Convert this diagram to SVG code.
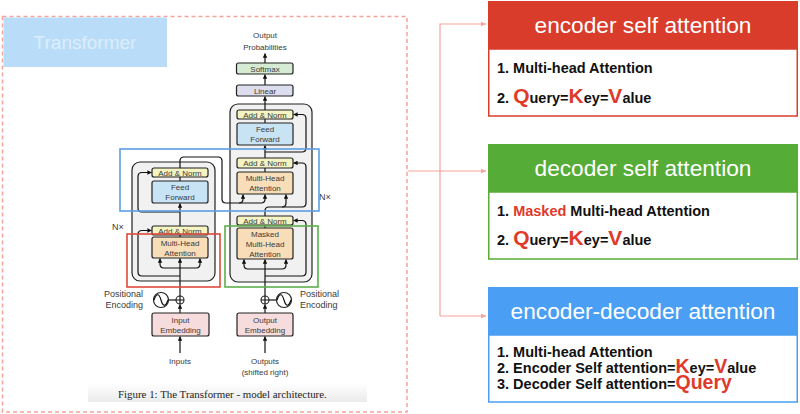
<svg xmlns="http://www.w3.org/2000/svg" width="800" height="414" viewBox="0 0 800 414">
<defs>
<style>
.lbl{font-family:"Liberation Sans",Arial,sans-serif;font-size:8px;fill:#3a3a3a;text-anchor:middle}
.olbl{font-family:"Liberation Sans",Arial,sans-serif;font-size:9px;fill:#3a3a3a}
.box{stroke:#222;stroke-width:1.2}
.ln{fill:none;stroke:#111;stroke-width:1.2}
.blk{fill:#f1f1f1;stroke:#222;stroke-width:1.2}
.an{fill:#f4f4c3}
.ff{fill:#c8e4f4}
.mha{fill:#f8deb8}
.emb{fill:#f6dcdc}
.hl{fill:none;stroke-width:1.6}
.conn{fill:none;stroke:#f5a49b;stroke-width:1.2}
.head{font-family:"Liberation Sans",Arial,sans-serif;font-size:22.7px;fill:#fff;text-anchor:middle}
.body{font-family:"Liberation Sans",Arial,sans-serif;font-size:14.5px;font-weight:bold;fill:#111}
.big{font-size:21px;fill:#e03a2a}
.big2{font-size:19.5px;fill:#e03a2a}
.red{fill:#e03a2a}
</style>
<marker id="ah" viewBox="0 0 6 6" refX="5.5" refY="3" markerWidth="4.5" markerHeight="4.5" orient="auto" markerUnits="userSpaceOnUse"><path d="M0,0 L6,3 L0,6 z" fill="#111"/></marker>
<marker id="ahs" viewBox="0 0 6 6" refX="5.5" refY="3" markerWidth="6" markerHeight="6" orient="auto" markerUnits="userSpaceOnUse"><path d="M0,0.5 L6,3 L0,5.5 z" fill="#f5a49b"/></marker>
<linearGradient id="capg" x1="0" y1="0" x2="0" y2="1"><stop offset="0" stop-color="#ffffff"/><stop offset="1" stop-color="#ebebeb"/></linearGradient>
</defs>
<rect width="800" height="414" fill="#fff"/>

<g id="frame">
<rect x="2.5" y="16.5" width="404.5" height="395.5" fill="none" stroke="#f5a49b" stroke-width="1.5" stroke-dasharray="4 3"/>
<rect x="3.5" y="17.5" width="163.5" height="49.5" fill="#b9dcf9"/>
<text x="85" y="49" font-family="'Liberation Sans',Arial,sans-serif" font-size="19" fill="#dcedfc" text-anchor="middle">Transformer</text>
<rect x="88" y="383" width="279" height="19" fill="url(#capg)"/>
<text x="118" y="398" font-family="'Liberation Serif','Times New Roman',serif" font-size="10.9" fill="#222">Figure 1: The Transformer - model architecture.</text>
</g>

<g id="encoder-block"><rect class="blk" x="132" y="162" width="83" height="119" rx="8"/></g>
<g id="decoder-block"><rect class="blk" x="230" y="104" width="82" height="178" rx="8"/></g>

<g id="connectors">
<path class="ln" d="M265,63 V53.5" marker-end="url(#ah)"/>
<path class="ln" d="M265,85 V74.5" marker-end="url(#ah)"/>
<path class="ln" d="M265,110 V96.5" marker-end="url(#ah)"/>
<path class="ln" d="M180,296 V258.5" marker-end="url(#ah)"/>
<path class="ln" d="M180,268 H164 Q160,268 160,264 V258.5" marker-end="url(#ah)"/>
<path class="ln" d="M180,268 H196 Q200,268 200,264 V258.5" marker-end="url(#ah)"/>
<path class="ln" d="M180,276 H142 Q138,276 138,272 V234.5 Q138,230.5 142,230.5 H151.5" marker-end="url(#ah)"/>
<path class="ln" d="M180,237 V235"/>
<path class="ln" d="M180,226 V203.5" marker-end="url(#ah)"/>
<path class="ln" d="M180,212 H142 Q138,212 138,208 V176.5 Q138,172.5 142,172.5 H151.5" marker-end="url(#ah)"/>
<path class="ln" d="M180,181 V177"/>
<path class="ln" d="M180,168 V161 Q180,157 184,157 H218 Q222,157 222,161 V199 Q222,203 226,203 H261 Q265,203 265,199 V194.5" marker-end="url(#ah)"/>
<path class="ln" d="M239,203 Q243,203 243,199 V194.5" marker-end="url(#ah)"/>
<path class="ln" d="M265,296 V259.5" marker-end="url(#ah)"/>
<path class="ln" d="M265,269 H248 Q244,269 244,265 V259.5" marker-end="url(#ah)"/>
<path class="ln" d="M265,269 H282 Q286,269 286,265 V259.5" marker-end="url(#ah)"/>
<path class="ln" d="M265,276 H302 Q306,276 306,272 V224.5 Q306,220.5 302,220.5 H293.5" marker-end="url(#ah)"/>
<path class="ln" d="M265,228 V225"/>
<path class="ln" d="M265,216 V211 Q265,207 269,207 H302 Q306,207 306,203 V167 Q306,163 302,163 H293.5" marker-end="url(#ah)"/>
<path class="ln" d="M282,207 Q286,207 286,203 V194.5" marker-end="url(#ah)"/>
<path class="ln" d="M265,172 V168"/>
<path class="ln" d="M265,158 V145.5" marker-end="url(#ah)"/>
<path class="ln" d="M265,152 H302 Q306,152 306,148 V118.5 Q306,114.5 302,114.5 H293.5" marker-end="url(#ah)"/>
<path class="ln" d="M265,123 V119"/>
<path class="ln" d="M180,313 V304.5" marker-end="url(#ah)"/>
<path class="ln" d="M265,313 V304.5" marker-end="url(#ah)"/>
<path class="ln" d="M180,353 V336.5" marker-end="url(#ah)"/>
<path class="ln" d="M265,353 V336.5" marker-end="url(#ah)"/>
<path class="ln" d="M168.5,300 H176"/>
<path class="ln" d="M269,300 H276.5"/>
<path class="conn" d="M408,171 H486" marker-end="url(#ahs)"/>
<path class="conn" d="M440,316 V24 H486" marker-end="url(#ahs)"/>
<path class="conn" d="M440,316 H486" marker-end="url(#ahs)"/>
</g>

<g id="output-prob">
<text class="lbl" x="265" y="38" font-size="9">Output</text>
<text class="lbl" x="265" y="50" font-size="9">Probabilities</text>
</g>
<g id="softmax"><rect class="box" x="236.5" y="63" width="56.5" height="11" rx="2" fill="#d5ebd3"/><text class="lbl" x="265" y="71.5">Softmax</text></g>
<g id="linear"><rect class="box" x="236.5" y="85" width="56.5" height="11" rx="2" fill="#dcdeef"/><text class="lbl" x="265" y="93.5">Linear</text></g>

<g id="dec-addnorm3"><rect class="box an" x="237" y="110" width="56" height="9" rx="2"/><text class="lbl" x="265" y="117.5">Add &amp; Norm</text></g>
<g id="dec-ff"><rect class="box ff" x="237" y="123" width="56" height="22" rx="2"/><text class="lbl" x="265" y="132">Feed</text><text class="lbl" x="265" y="142">Forward</text></g>
<g id="dec-addnorm2"><rect class="box an" x="237" y="158" width="56" height="10" rx="2"/><text class="lbl" x="265" y="166">Add &amp; Norm</text></g>
<g id="dec-mha"><rect class="box mha" x="237" y="172" width="56" height="22" rx="2"/><text class="lbl" x="265" y="181">Multi-Head</text><text class="lbl" x="265" y="191">Attention</text></g>
<g id="dec-addnorm1"><rect class="box an" x="237" y="216" width="56" height="9" rx="2"/><text class="lbl" x="265" y="223.5">Add &amp; Norm</text></g>
<g id="dec-masked-mha"><rect class="box mha" x="237" y="228" width="56" height="31" rx="2"/><text class="lbl" x="265" y="237">Masked</text><text class="lbl" x="265" y="247">Multi-Head</text><text class="lbl" x="265" y="257">Attention</text></g>

<g id="enc-addnorm2"><rect class="box an" x="152" y="168" width="56" height="9" rx="2"/><text class="lbl" x="180" y="175.5">Add &amp; Norm</text></g>
<g id="enc-ff"><rect class="box ff" x="152" y="181" width="56" height="22" rx="2"/><text class="lbl" x="180" y="190">Feed</text><text class="lbl" x="180" y="200">Forward</text></g>
<g id="enc-addnorm1"><rect class="box an" x="152" y="226" width="56" height="9" rx="2"/><text class="lbl" x="180" y="233.5">Add &amp; Norm</text></g>
<g id="enc-mha"><rect class="box mha" x="152" y="237" width="56" height="21" rx="2"/><text class="lbl" x="180" y="246">Multi-Head</text><text class="lbl" x="180" y="255.5">Attention</text></g>

<g id="nx-labels">
<text class="olbl" x="112" y="230">N×</text>
<text class="olbl" x="319" y="200">N×</text>
</g>

<g id="enc-posenc">
<circle cx="161" cy="300" r="7.5" fill="#fff" stroke="#222" stroke-width="1.2"/>
<path class="ln" d="M154,300 C156.5,293 159,293 161,300 C163,307 165.5,307 168,300"/>
<circle cx="180" cy="300" r="4" fill="#fff" stroke="#222" stroke-width="1.1"/>
<path class="ln" d="M176,300 H184 M180,296 V304" stroke-width="0.9"/>
<text class="olbl" x="143" y="297" text-anchor="end">Positional</text>
<text class="olbl" x="143" y="308" text-anchor="end">Encoding</text>
</g>
<g id="dec-posenc">
<circle cx="284" cy="300" r="7.5" fill="#fff" stroke="#222" stroke-width="1.2"/>
<path class="ln" d="M277,300 C279.5,293 282,293 284,300 C286,307 288.5,307 291,300"/>
<circle cx="265" cy="300" r="4" fill="#fff" stroke="#222" stroke-width="1.1"/>
<path class="ln" d="M261,300 H269 M265,296 V304" stroke-width="0.9"/>
<text class="olbl" x="300" y="297">Positional</text>
<text class="olbl" x="300" y="308">Encoding</text>
</g>

<g id="input-embedding"><rect class="box emb" x="152" y="313" width="57" height="23" rx="2"/><text class="lbl" x="180.5" y="322.5">Input</text><text class="lbl" x="180.5" y="332.5">Embedding</text></g>
<g id="output-embedding"><rect class="box emb" x="237" y="313" width="56" height="23" rx="2"/><text class="lbl" x="265" y="322.5">Output</text><text class="lbl" x="265" y="332.5">Embedding</text></g>
<g id="inputs"><text class="lbl" x="180" y="364" font-size="9">Inputs</text></g>
<g id="outputs"><text class="lbl" x="265" y="364" font-size="9">Outputs</text><text class="lbl" x="265" y="375" font-size="9">(shifted right)</text></g>

<g id="hl-blue"><rect class="hl" x="120" y="149" width="199" height="62" stroke="#5b9fe3"/></g>
<g id="hl-red"><rect class="hl" x="127" y="234" width="93" height="53" stroke="#e0493a"/></g>
<g id="hl-green"><rect class="hl" x="225" y="226" width="93" height="61" stroke="#5cb04a"/></g>

<g id="encoder-self-attention">
<rect x="488" y="1" width="310" height="48" fill="#d93c2b"/>
<rect x="488.75" y="49" width="308.5" height="67" fill="#fff" stroke="#d93c2b" stroke-width="1.5"/>
<text class="head" x="643" y="33">encoder self attention</text>
<text class="body" x="497" y="73">1. Multi-head Attention</text>
<text class="body" x="497" y="102.5">2. <tspan class="big">Q</tspan>uery=<tspan class="big">K</tspan>ey=<tspan class="big">V</tspan>alue</text>
</g>
<g id="decoder-self-attention">
<rect x="488" y="144" width="310" height="48" fill="#55ac36"/>
<rect x="488.75" y="192" width="308.5" height="67" fill="#fff" stroke="#55ac36" stroke-width="1.5"/>
<text class="head" x="643" y="176">decoder self attention</text>
<text class="body" x="497" y="216">1. <tspan class="red">Masked</tspan> Multi-head Attention</text>
<text class="body" x="497" y="245">2. <tspan class="big">Q</tspan>uery=<tspan class="big">K</tspan>ey=<tspan class="big">V</tspan>alue</text>
</g>
<g id="encoder-decoder-attention">
<rect x="488" y="287" width="310" height="48" fill="#4a9ff4"/>
<rect x="488.75" y="335" width="308.5" height="67" fill="#fff" stroke="#4a9ff4" stroke-width="1.5"/>
<text class="head" x="643" y="319">encoder-decoder attention</text>
<text class="body" x="497" y="357">1. Multi-head Attention</text>
<text class="body" x="497" y="373">2. Encoder Self attention=<tspan class="big2">K</tspan>ey=<tspan class="big2">V</tspan>alue</text>
<text class="body" x="497" y="389">3. Decoder Self attention=<tspan class="big2">Query</tspan></text>
</g>
</svg>
